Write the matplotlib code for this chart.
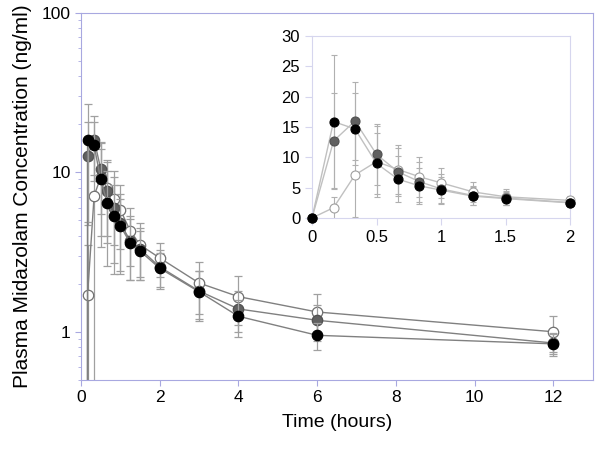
import matplotlib
matplotlib.use("Agg")
import matplotlib.pyplot as plt

plt.rcParams['font.family'] = ['Liberation Sans', 'DejaVu Sans']

# sampling times (hours)
times = [0, 0.167, 0.333, 0.5, 0.667, 0.833, 1, 1.25, 1.5, 2, 3, 4, 6, 12]

# mean concentrations (ng/ml) and SDs
white_mean = [0, 1.7, 7.1, 9.3, 8.0, 6.8, 5.8, 4.3, 3.5, 2.9, 2.02, 1.66, 1.33, 1.0]
white_sd = [0, 1.8, 7.0, 5.9, 4.0, 3.3, 2.5, 1.7, 1.3, 0.7, 0.72, 0.56, 0.40, 0.25]

grey_mean = [0, 12.7, 16.0, 10.5, 7.6, 6.0, 4.8, 3.7, 3.3, 2.55, 1.8, 1.39, 1.18, 0.85]
grey_sd = [0, 8.0, 6.4, 5.0, 4.0, 3.3, 2.5, 1.6, 1.2, 0.7, 0.6, 0.40, 0.30, 0.12]

black_mean = [0, 15.9, 14.7, 9.0, 6.4, 5.3, 4.6, 3.6, 3.2, 2.5, 1.78, 1.25, 0.95, 0.84]
black_sd = [0, 11.0, 5.9, 5.0, 3.8, 3.0, 2.2, 1.5, 1.1, 0.6, 0.62, 0.32, 0.18, 0.14]

series = [
    (white_mean, white_sd, 'white', '#707070'),
    (grey_mean, grey_sd, '#606060', '#505050'),
    (black_mean, black_sd, 'black', 'black'),
]

spine_col = '#a8a8e0'

fig = plt.figure(figsize=(6, 4.5), dpi=100)
ax = fig.add_axes([0.135, 0.156, 0.853, 0.816])

for mean, sd, fc, ec in series:
    ax.errorbar(times, mean, yerr=sd, fmt='none', ecolor='#a0a0a0',
                elinewidth=0.9, capsize=3, capthick=0.9)
    ax.plot(times, mean, '-', color='#808080', lw=1.0)
    ax.plot(times, mean, 'o', mfc=fc, mec=ec, ms=7.5, mew=0.9)

ax.set_yscale('log')
ax.set_ylim(0.5, 100)
ax.set_xlim(0, 13)
ax.set_xticks([0, 2, 4, 6, 8, 10, 12])
ax.set_yticks([1, 10, 100])
ax.set_yticklabels(['1', '10', '100'])
ax.tick_params(direction='out', color=spine_col, labelsize=12.5, length=4)
ax.tick_params(which='minor', direction='out', color=spine_col, length=2.5)
for s in ax.spines.values():
    s.set_color(spine_col)
ax.set_xlabel('Time (hours)', fontsize=14, labelpad=6)
ax.set_ylabel('Plasma Midazolam Concentration (ng/ml)', fontsize=15, labelpad=7)

# inset with the first two hours on a linear scale
ins = fig.add_axes([0.52, 0.5156, 0.43, 0.404])
ins_col = '#d6d6ee'
for mean, sd, fc, ec in series:
    t2 = [t for t in times if t <= 2]
    n = len(t2)
    ins.errorbar(t2, mean[:n], yerr=sd[:n], fmt='none', ecolor='#b0b0b0',
                 elinewidth=0.8, capsize=2.5, capthick=0.8)
    ins.plot(t2, mean[:n], '-', color='#c0c0c0', lw=1.0)
    ins.plot(t2, mean[:n], 'o', mfc=fc, mec=ec if fc != 'white' else '#a0a0a0',
             ms=6.5, mew=0.8, clip_on=False, zorder=5)

ins.set_xlim(0, 2)
ins.set_ylim(0, 30)
ins.set_xticks([0, 0.5, 1, 1.5, 2])
ins.set_xticklabels(['0', '0.5', '1', '1.5', '2'])
ins.set_yticks([0, 5, 10, 15, 20, 25, 30])
ins.tick_params(direction='out', color=ins_col, labelsize=12, length=5)
for s in ins.spines.values():
    s.set_color(ins_col)

fig.savefig('out.png', dpi=100)
